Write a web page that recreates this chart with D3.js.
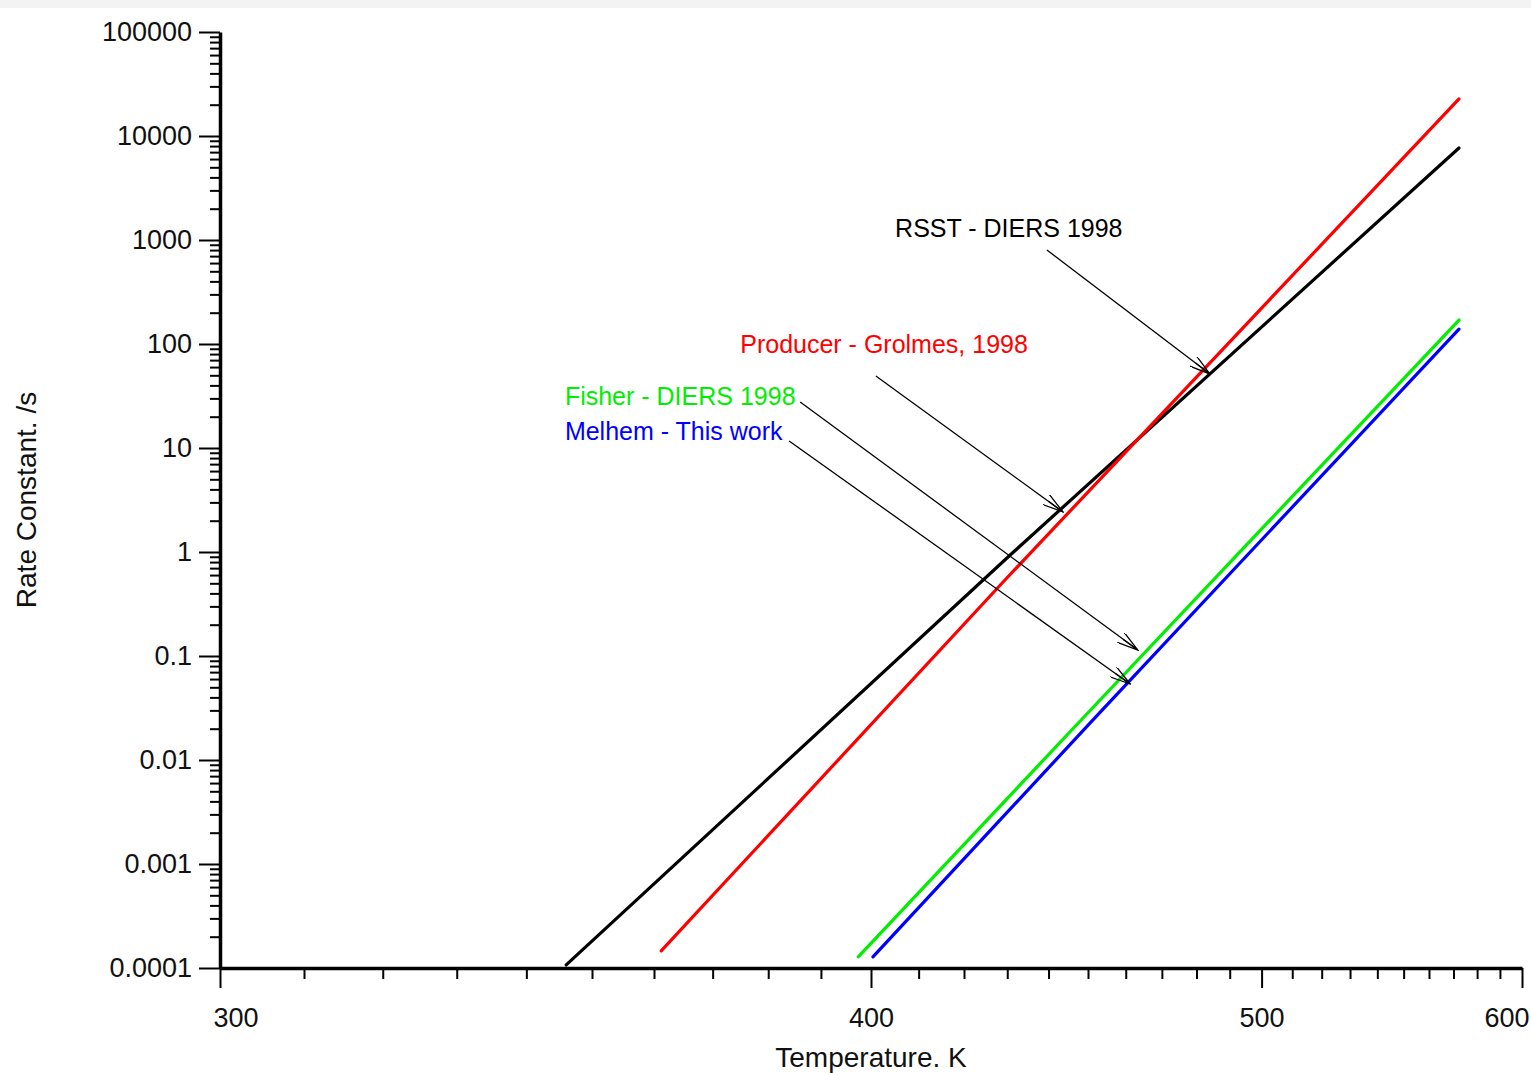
<!DOCTYPE html>
<html>
<head>
<meta charset="utf-8">
<title>Rate Constant vs Temperature</title>
<script src="https://d3js.org/d3.v7.min.js"></script>
<style>
  body { margin: 0; background: #fff; }
  svg { display: block; font-family: "Liberation Sans", Arial, sans-serif; }
  .axis path, .axis line { stroke: #000; }
  .axis text { fill: #111; font-size: 27px; }
</style>
</head>
<body>
<div id="chart"></div>
<script>

// series values (temperature K, rate constant /s)
var tempRSST = [346.0, 430.7, 572.3];
var rateRSST = [1.07e-4, 0.935, 7670];
var tempProducer = [361.2, 429.9, 572.3];
var rateProducer = [1.46e-4, 0.562, 22700];
var tempFisher = [397.4, 449.2, 572.3];
var rateFisher = [1.28e-4, 0.0265, 170];
var tempMelhem = [400.4, 451.3, 572.3];
var rateMelhem = [1.28e-4, 0.0243, 139];

var seriesNames = ["RSST - DIERS 1998", "Producer - Grolmes, 1998", "Fisher - DIERS 1998", "Melhem - This work"];
var seriesColors = ["#000000", "#ff0000", "#00ee00", "#0000ff"];

// tick labels
var xMajor = [300, 400, 500, 600];
var yMajor = [1e-4, 1e-3, 1e-2, 1e-1, 1, 10, 100, 1000, 10000, 100000];
var yLabels = ["0.0001", "0.001", "0.01", "0.1", "1", "10", "100", "1000", "10000", "100000"];

// annotation placement in data units
var labelT = [405.0, 374.9, 345.8, 345.8];
var labelK = [1069, 81.9, 25.9, 11.9];
var arrowFromT = [439.6, 401.0, 386.0, 383.9];
var arrowFromK = [801, 49.2, 27.7, 11.7];
var arrowToT = [484.0, 443.6, 463.3, 461.2];
var arrowToK = [51.5, 2.43, 0.114, 0.0538];

var width = 1531, height = 1073;
var margin = { left: 220, right: 1522, top: 32, bottom: 968 };

var series = [
  { temps: tempRSST, rates: rateRSST },
  { temps: tempProducer, rates: rateProducer },
  { temps: tempFisher, rates: rateFisher },
  { temps: tempMelhem, rates: rateMelhem }
];

// x is linear in 1/T (Arrhenius), y is log
var x = d3.scaleLinear().domain([1 / 300, 1 / 600]).range([margin.left, margin.right]);
var y = d3.scaleLog().domain([1e-4, 1e5]).range([margin.bottom, margin.top]);
function xT(t) { return x(1 / t); }

var svg = d3.select("#chart").append("svg")
  .attr("width", width)
  .attr("height", height);

svg.append("rect").attr("x", 0).attr("y", 0).attr("width", width).attr("height", 8).attr("fill", "#f3f3f3");

svg.append("defs").append("marker")
  .attr("id", "head")
  .attr("viewBox", "0 0 22 12")
  .attr("refX", 21).attr("refY", 6)
  .attr("markerWidth", 22).attr("markerHeight", 12)
  .attr("markerUnits", "userSpaceOnUse")
  .attr("orient", "auto")
  .append("path")
  .attr("d", "M0,0 L21,6 L0,12 M3,6 L21,6")
  .attr("fill", "none")
  .attr("stroke", "#000")
  .attr("stroke-width", 1.3);

// minor ticks
var xMinor = [];
for (var t = 310; t < 600; t += 10) { if (xMajor.indexOf(t) < 0) xMinor.push(1 / t); }
var yMinor = [];
yMajor.slice(0, -1).forEach(function (m) { for (var i = 2; i <= 9; i++) yMinor.push(m * i); });

svg.append("g").attr("class", "axis")
  .attr("transform", "translate(0," + margin.bottom + ")")
  .call(d3.axisBottom(x).tickValues(xMinor).tickSize(11).tickFormat(""))
  .call(function (g) { g.select(".domain").remove(); g.selectAll("line").attr("stroke-width", 2); });

var xAxis = svg.append("g").attr("class", "axis")
  .attr("transform", "translate(0," + margin.bottom + ")")
  .call(d3.axisBottom(x).tickValues(xMajor.map(function (d) { return 1 / d; }))
    .tickSize(20).tickSizeOuter(0).tickPadding(20)
    .tickFormat(function (d) { return Math.round(1 / d); }));
xAxis.select(".domain").attr("stroke-width", 3.5);
xAxis.selectAll("line").attr("stroke-width", 2);
xAxis.selectAll("text").filter(function (d, i) { return i === 0; }).attr("text-anchor", "start").attr("dx", -7);
xAxis.selectAll("text").filter(function (d, i) { return i === xMajor.length - 1; }).attr("text-anchor", "end").attr("dx", 7);

svg.append("g").attr("class", "axis")
  .attr("transform", "translate(" + margin.left + ",0)")
  .call(d3.axisLeft(y).tickValues(yMinor).tickSize(10).tickFormat(""))
  .call(function (g) { g.select(".domain").remove(); g.selectAll("line").attr("stroke-width", 2); });

var yAxis = svg.append("g").attr("class", "axis")
  .attr("transform", "translate(" + margin.left + ",0)")
  .call(d3.axisLeft(y).tickValues(yMajor).tickSize(21).tickSizeOuter(0).tickPadding(7)
    .tickFormat(function (d, i) { return yLabels[i]; }));
yAxis.select(".domain").attr("stroke-width", 3.5);
yAxis.selectAll("line").attr("stroke-width", 2);

// axis titles
svg.append("text")
  .attr("x", (margin.left + margin.right) / 2).attr("y", 1067)
  .attr("text-anchor", "middle")
  .style("font-size", "28px").attr("fill", "#111")
  .text("Temperature. K");

svg.append("text")
  .attr("transform", "translate(36," + (margin.top + margin.bottom) / 2 + ") rotate(-90)")
  .attr("text-anchor", "middle")
  .style("font-size", "28px").attr("fill", "#111")
  .text("Rate Constant. /s");

// data lines
var line = d3.line()
  .x(function (d) { return xT(d[0]); })
  .y(function (d) { return y(d[1]); });

svg.selectAll(".series")
  .data(series)
  .enter().append("path")
  .attr("class", "series")
  .attr("d", function (s) { return line(s.temps.map(function (t, i) { return [t, s.rates[i]]; })); })
  .attr("fill", "none")
  .attr("stroke", function (s, i) { return seriesColors[i]; })
  .attr("stroke-width", 3.2)
  .attr("stroke-linecap", "round");

// annotations
svg.selectAll(".arrow")
  .data(seriesNames)
  .enter().append("line")
  .attr("class", "arrow")
  .attr("x1", function (d, i) { return xT(arrowFromT[i]); })
  .attr("y1", function (d, i) { return y(arrowFromK[i]); })
  .attr("x2", function (d, i) { return xT(arrowToT[i]); })
  .attr("y2", function (d, i) { return y(arrowToK[i]); })
  .attr("stroke", "#000")
  .attr("stroke-width", 1.3)
  .attr("marker-end", "url(#head)");

svg.selectAll(".label")
  .data(seriesNames)
  .enter().append("text")
  .attr("class", "label")
  .attr("x", function (d, i) { return xT(labelT[i]); })
  .attr("y", function (d, i) { return y(labelK[i]); })
  .attr("fill", function (d, i) { return seriesColors[i]; })
  .style("font-size", "25px")
  .text(function (d) { return d; });

</script>
</body>
</html>
